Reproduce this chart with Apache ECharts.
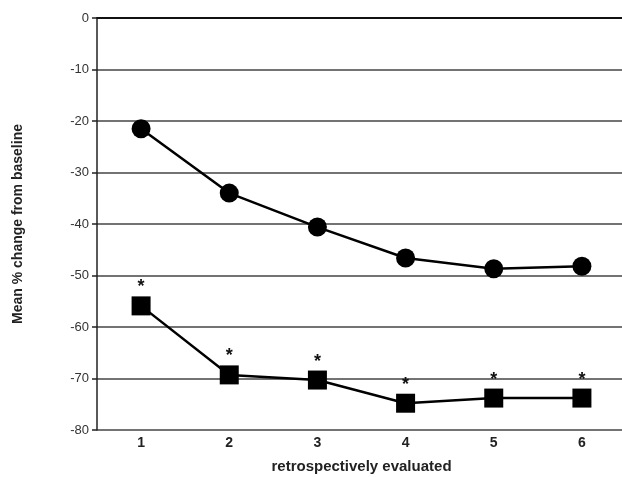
<!DOCTYPE html>
<html>
<head>
<meta charset="utf-8">
<script src="https://cdn.jsdelivr.net/npm/echarts@6/dist/echarts.min.js"></script>
<style>
  html, body { margin: 0; padding: 0; background: #fff; }
  #chart { width: 622px; height: 477px; }
</style>
</head>
<body>
<div id="chart"></div>
<script>
const categories = ['1', '2', '3', '4', '5', '6']
const circleValues = [-21.5, -34, -40.6, -46.6, -48.7, -48.2]
const squareValues = [-55.9, -69.3, -70.3, -74.8, -73.8, -73.8]
const yTicks = { min: -80, max: 0, step: 10 }

const chart = echarts.init(document.getElementById('chart'))

const font = 'Liberation Sans, Arial, sans-serif'

const option = {
  animation: false,
  grid: { left: 97, right: -4, top: 18, bottom: 47, outerBoundsMode: 'none' },
  xAxis: {
    type: 'category',
    data: categories,
    boundaryGap: true,
    name: 'retrospectively evaluated',
    nameLocation: 'middle',
    nameGap: 29,
    nameTextStyle: { fontFamily: font, fontSize: 15, fontWeight: 'bold', color: '#222' },
    axisLine: { lineStyle: { color: '#111', width: 2 } },
    axisTick: { show: false },
    axisLabel: { fontFamily: font, fontSize: 14, fontWeight: 'bold', color: '#222', margin: 6 }
  },
  yAxis: {
    type: 'value',
    min: yTicks.min,
    max: yTicks.max,
    interval: yTicks.step,
    name: 'Mean % change from baseline',
    nameLocation: 'middle',
    nameGap: 72,
    nameTextStyle: { fontFamily: font, fontSize: 14, fontWeight: 'bold', color: '#222' },
    axisLine: { show: true, lineStyle: { color: '#222', width: 1.5 } },
    axisTick: { show: true, length: 5, lineStyle: { color: '#222', width: 1.5 } },
    axisLabel: { fontFamily: font, fontSize: 13, color: '#333', margin: 8 },
    splitLine: { lineStyle: { color: '#444', width: 1.5 } }
  },
  series: [
    {
      name: 'circle',
      type: 'line',
      data: circleValues,
      symbol: 'circle',
      symbolSize: 19,
      itemStyle: { color: '#000' },
      lineStyle: { color: '#000', width: 2.5 }
    },
    {
      name: 'square',
      type: 'line',
      data: squareValues,
      symbol: 'rect',
      symbolSize: 19,
      itemStyle: { color: '#000' },
      lineStyle: { color: '#000', width: 2.5 },
      label: {
        show: true,
        position: 'top',
        distance: 0,
        formatter: '*',
        fontFamily: font,
        fontSize: 18,
        fontWeight: 'bold',
        color: '#111'
      }
    }
  ]
}

chart.setOption(option)
</script>
</body>
</html>
